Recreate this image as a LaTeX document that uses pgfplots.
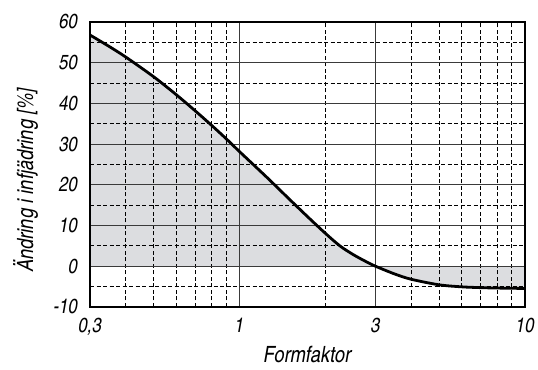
\documentclass[border=0pt]{standalone}
\usepackage{fontspec}
\setmainfont{TeX Gyre Heros Cn}
\usepackage{pgfplots}
\pgfplotsset{compat=1.18}
\usepgfplotslibrary{fillbetween}
\definecolor{shade}{HTML}{DCDDE0}
\definecolor{gridgray}{HTML}{3A3A3A}
% shaded area goes under the grid
\tikzset{fill between/on layer=axis background}

\begin{document}
\begin{tikzpicture}
\begin{axis}[
  set layers,
  scale only axis, width=435bp, height=285bp,
  xmode=log, xmin=0.3, xmax=10, ymin=-10, ymax=60,
  xtick={0.3,1,3,10}, xticklabels={{0,3},1,3,10},
  minor xtick={0.4,0.5,0.6,0.7,0.8,0.9,2,4,5,6,7,8,9},
  ytick={-10,0,10,20,30,40,50,60},
  yticklabels={-10,0,10,20,30,40,50,60},
  minor ytick={-5,5,15,25,35,45,55},
  grid=both,
  major grid style={gridgray, line width=1.2bp},
  minor grid style={black, line width=0.9bp, dash pattern=on 4bp off 2.5bp},
  major tick length=0pt, minor tick length=0pt,
  axis line style={black, line width=2.6bp},
  ticklabel style={font=\fontsize{20.5}{20.5}\selectfont\itshape},
  x tick label style={anchor=base, yshift=-26bp},
  y tick label style={anchor=east, inner sep=0pt, xshift=-12bp},
  xlabel={Formfaktor},
  ylabel={Ändring i infjädring [\%]},
  label style={font=\fontsize{22.5}{22.5}\selectfont\itshape},
  xlabel style={at={(axis description cs:0.5,0)}, anchor=base, yshift=-56bp},
  ylabel style={at={(axis description cs:-0.148,0.4456)}, anchor=center},
]
% response curve
\addplot[name path=curve, black, line width=2.8bp, smooth] coordinates {
  (0.3,56.8) (0.35,54.0) (0.4,51.4) (0.5,46.6) (0.6,42.2) (0.7,38.2)
  (0.8,34.6) (0.9,31.3) (1.0,28.2) (1.25,21.8) (1.5,16.4) (1.75,11.9)
  (2.0,8.1) (2.25,5.0) (2.5,2.9) (2.75,1.3) (3.0,0.0) (3.5,-1.9)
  (4.0,-3.2) (5.0,-4.55) (6.0,-5.05) (7.0,-5.25) (8.0,-5.35) (10.0,-5.45)
};
% zero line used for the shaded area
\addplot[name path=zero, draw=none] coordinates {(0.3,0) (10,0)};
\addplot[fill=shade, draw=none] fill between[of=curve and zero];
\end{axis}
\path (current axis.south west) ++(-90bp,-63bp) coordinate (bbl);
\path (current axis.north east) ++(13bp,22bp) coordinate (bbr);
\useasboundingbox (bbl) rectangle (bbr);
\end{tikzpicture}
\end{document}
